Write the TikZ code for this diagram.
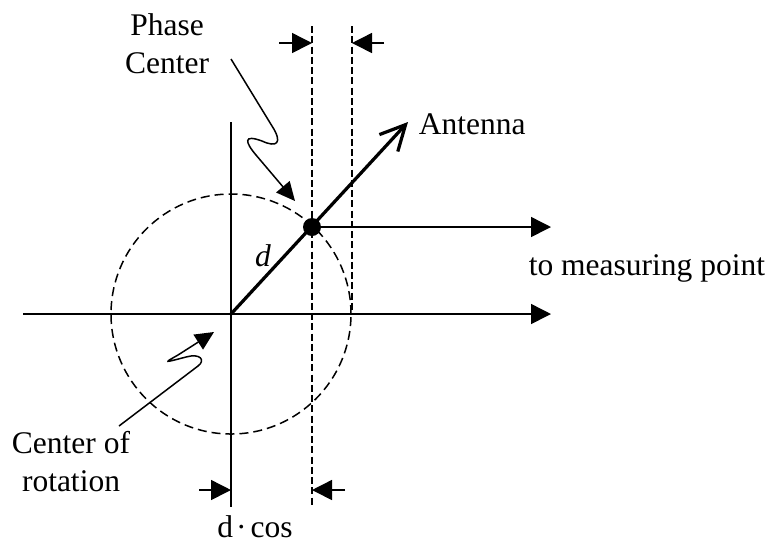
\documentclass[tikz,border=0pt]{standalone}
\usepackage{fontspec}
\setmainfont{Liberation Serif}
\usetikzlibrary{arrows.meta,positioning}

\begin{document}
\begin{tikzpicture}[x=0.4pt,y=-0.4pt,
    font=\fontsize{12.6}{15.2}\selectfont,
    thinline/.style={line width=0.6pt},
    filltip/.style={thinline,-{Triangle[length=8pt,width=8pt]}},
    guide/.style={thinline,dash pattern=on 2.8pt off 1.3pt},
    pointer/.style={thinline,-{Triangle[length=7.5pt,width=7pt]}}]
    \useasboundingbox (0,0) rectangle (773,543);
    % axes and circle of rotation
    \coordinate (O) at (231,314);
    \coordinate (xl) at (23,314);
    \coordinate (xr) at (551,314);
    \coordinate (yt) at (231,122);
    \coordinate (yb) at (231,507);
    \draw[thinline] (yt) -- (yb);
    \draw[filltip] (xl) -- (xr);
    \draw[thinline, dash pattern=on 3.6pt off 2pt] (O) circle [radius=48pt];
    % antenna and phase center
    \coordinate (P) at (312,227);
    \coordinate (tip) at (408,122);
    \coordinate (meas) at (551,227);
    \draw[line width=1.3pt, -{Straight Barb[length=10pt,width=10pt]}] (O) -- (tip);
    \draw[filltip] (P) -- (meas);
    \fill (P) circle (3.6pt);
    % projection lines
    \coordinate (g1t) at (312,26);
    \coordinate (g1b) at (312,507);
    \coordinate (g2t) at (352,26);
    \coordinate (g2b) at (352,314);
    \draw[guide] (g1t) -- (g1b);
    \draw[guide] (g2t) -- (g2b);
    % offset markers
    \coordinate (ta) at (279,43);
    \coordinate (tb) at (312,43);
    \coordinate (tc) at (384,43);
    \coordinate (td) at (352,43);
    \draw[filltip] (ta) -- (tb);
    \draw[filltip] (tc) -- (td);
    \coordinate (ba) at (199,490);
    \coordinate (bb) at (231,490);
    \coordinate (bc) at (345,490);
    \coordinate (bd) at (312,490);
    \draw[filltip] (ba) -- (bb);
    \draw[filltip] (bc) -- (bd);
    % labels
    \node[align=center] (phase) at (167,44) {Phase\\Center};
    \node[align=center] (rot) at (71,462) {Center of\\rotation};
    \node[anchor=west] (ant) at (410,124) {Antenna};
    \node[anchor=west] (to) at (520,268) {to measuring point};
    \node (dlab) at (263,256) {\textit{d}};
    \node[inner sep=1pt] (dcos) at (255,527) {d\kern1.2pt·\kern1.6pt cos};
    % pointers
    \coordinate (ps) at (231,59);
    \coordinate (pe) at (295,201);
    \draw[pointer] (ps) -- (272,126) .. controls (283,143) and (277,148) .. (262,141)
        .. controls (243,134) and (245,142) .. (256,155) -- (pe);
    \coordinate (rs) at (119,426);
    \coordinate (re) at (214,332);
    \draw[pointer] (rs) -- (198,366) .. controls (206,360) and (200,353) .. (186,357)
        .. controls (163,363) and (164,363) .. (178,355) -- (re);
\end{tikzpicture}
\end{document}
